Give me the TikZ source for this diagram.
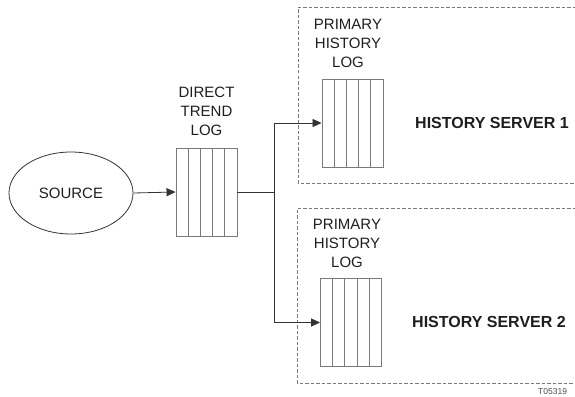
\documentclass[tikz,border=0pt]{standalone}
\usepackage{fontspec}
\setmainfont{Liberation Sans}
\usetikzlibrary{shapes.geometric,arrows.meta}
\definecolor{boxgray}{HTML}{7A7A7A}
\definecolor{txt}{HTML}{1E1E1E}
\tikzset{
  lbl/.style={align=center,font=\fontsize{15}{19}\selectfont,text=txt,inner sep=0pt},
  srv/.style={anchor=west,font=\fontsize{16}{18}\selectfont\bfseries,text=txt,inner sep=0pt},
  logbox/.style={draw=boxgray,line width=0.9pt,minimum width=61pt,minimum height=88pt,inner sep=0pt,
    path picture={
      \foreach \i in {1,2,3,4}{
        \draw[boxgray,line width=0.9pt] ([xshift=\i*12.2pt]path picture bounding box.north west) -- ([xshift=\i*12.2pt]path picture bounding box.south west);
      }}},
  conn/.style={draw=black!80,line width=0.8pt},
  arr/.style={conn,-{Triangle[length=9pt,width=8pt]}},
  dbox/.style={draw=boxgray,line width=0.8pt,dash pattern=on 3.5pt off 2pt}
}
\begin{document}
\begin{tikzpicture}[x=1pt,y=-1pt]
\useasboundingbox (0,0) rectangle (575,396);
% dashed server boxes
\draw[dbox] (620,7) -- (298,7) -- (298,183) -- (620,183);
\draw[dbox] (620,208) -- (297,208) -- (297,383) -- (620,383);
% source
\node[ellipse,draw=black!80,line width=0.8pt,minimum width=124pt,minimum height=82pt,inner sep=0pt,font=\fontsize{15}{17}\selectfont,text=txt] (src) at (71,193) {SOURCE};
% logs
\node[logbox] (dlog) at (206.5,192) {};
\node[logbox] (plog1) at (352.5,123) {};
\node[logbox] (plog2) at (351,322.5) {};
% labels
\node[lbl] (dlbl) at (206.5,111) {DIRECT\\TREND\\LOG};
\node[lbl] (plbl1) at (348,43) {PRIMARY\\HISTORY\\LOG};
\node[lbl] (plbl2) at (347,243) {PRIMARY\\HISTORY\\LOG};
\node[srv] (srv1) at (415,123) {HISTORY SERVER 1};
\node[srv] (srv2) at (412,322) {HISTORY SERVER 2};
\node[anchor=west,font=\fontsize{8.5}{9}\selectfont,text=black!70,inner sep=0pt] (tag) at (538,392) {T05319};
% connectors
\coordinate (busmid) at (274,192);
\coordinate (bustop) at (274,123);
\coordinate (busbot) at (274,322.5);
\draw[arr] (src.east) -- (dlog.west);
\draw[conn] (dlog.east) -- (busmid);
\draw[conn] (bustop) -- (busbot);
\draw[arr] (bustop) -- (plog1.west);
\draw[arr] (busbot) -- (plog2.west);
\end{tikzpicture}
\end{document}
